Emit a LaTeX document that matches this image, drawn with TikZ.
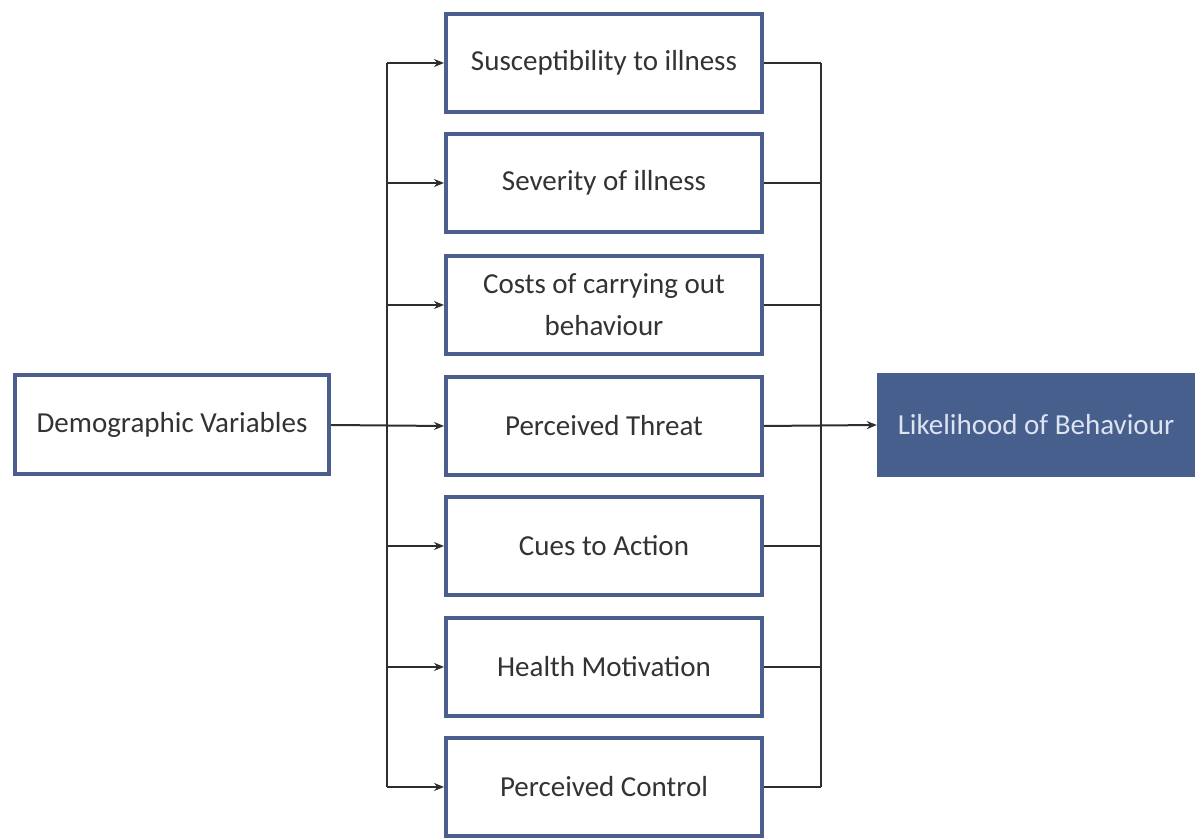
\documentclass[tikz,border=0pt]{standalone}
\usepackage{fontspec}
\setmainfont{Carlito}
\usetikzlibrary{arrows.meta}
\definecolor{boxblue}{HTML}{4B5E8E}
\definecolor{fillblue}{HTML}{475F8C}
\definecolor{txtgray}{HTML}{333333}
\definecolor{linegray}{HTML}{2E2E2E}
\definecolor{lighttxt}{HTML}{DCE3F1}
\tikzset{
  stagebox/.style={draw=boxblue, line width=4pt, fill=white, text=txtgray,
    minimum width=316pt, minimum height=98pt, inner sep=0pt, align=center,
    font=\fontsize{29}{42}\selectfont},
  demobox/.style={stagebox, minimum width=314pt, minimum height=99pt},
  outbox/.style={fill=fillblue, text=lighttxt, minimum width=318pt, minimum height=104pt,
    inner sep=0pt, font=\fontsize{29}{42}\selectfont},
  conn/.style={draw=linegray, line width=2pt},
  arr/.style={conn, -{Stealth[length=10pt,width=8pt]}}
}
\begin{document}
\begin{tikzpicture}[x=1pt,y=1pt]
\useasboundingbox (0,0) rectangle (1195,838);
\node[stagebox] (b1) at (604,775) {Susceptibility to illness};
\node[stagebox] (b2) at (604,655) {Severity of illness};
\node[stagebox] (b3) at (604,533) {Costs of carrying out\\behaviour};
\node[stagebox] (b4) at (604,412) {Perceived Threat};
\node[stagebox] (b5) at (604,292) {Cues to Action};
\node[stagebox] (b6) at (604,171) {Health Motivation};
\node[stagebox] (b7) at (604,51) {Perceived Control};
\node[demobox] (demo) at (172,413) {Demographic Variables};
\node[outbox] (like) at (1036,413) {Likelihood of Behaviour};
\coordinate (lt) at (387,775);
\coordinate (lb) at (387,51);
\coordinate (rt) at (821,775);
\coordinate (rb) at (821,51);
\draw[conn] (lt) -- (lb);
\draw[conn] (rt) -- (rb);
\foreach \b in {b1,b2,b3,b5,b6,b7}{
  \draw[arr] (lt |- \b.west) -- (\b.west);
  \draw[conn] (\b.east) -- (rt |- \b.east);
}
\draw[arr] (demo.east) -- (b4.west);
\draw[arr] (b4.east) -- (like.west);
\end{tikzpicture}
\end{document}
